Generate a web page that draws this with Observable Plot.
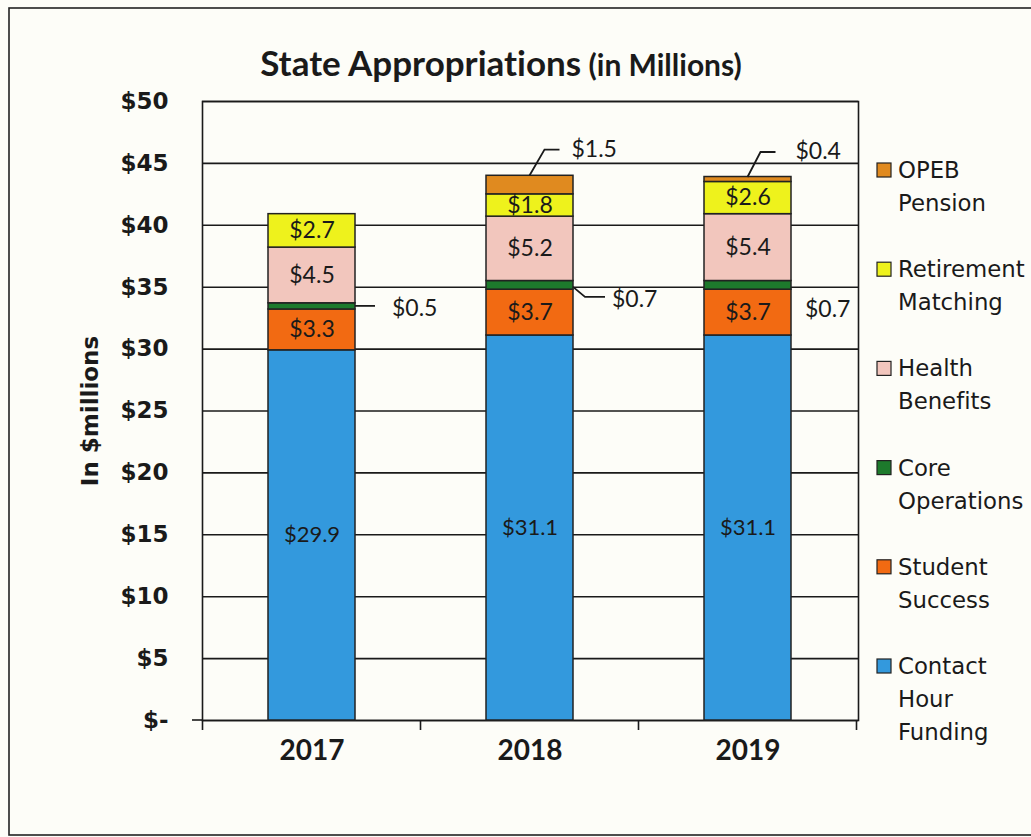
<!DOCTYPE html>
<html><head><meta charset="utf-8">
<script src="https://cdn.jsdelivr.net/npm/d3@7"></script>
<script src="https://cdn.jsdelivr.net/npm/@observablehq/plot@0.6"></script>
<style>
body{margin:0;background:#fdfdf8;}
#chart{position:relative;width:1031px;height:837px;}
text{font-variant-ligatures:none;}
</style>
</head><body><div id="chart"></div>
<script>
// ---- data ----
const years = ["2017", "2018", "2019"];
const series = ["Contact Hour Funding", "Student Success", "Core Operations", "Health Benefits", "Retirement Matching", "OPEB Pension"];
const contactHourFunding = [29.9, 31.1, 31.1];
const studentSuccess = [3.3, 3.7, 3.7];
const coreOperations = [0.5, 0.7, 0.7];
const healthBenefits = [4.5, 5.2, 5.4];
const retirementMatching = [2.7, 1.8, 2.6];
const opebPension = [0, 1.5, 0.4];
const legendLabels = [["OPEB", "Pension"], ["Retirement", "Matching"], ["Health", "Benefits"], ["Core", "Operations"], ["Student", "Success"], ["Contact", "Hour", "Funding"]];
const legendSeries = ["OPEB Pension", "Retirement Matching", "Health Benefits", "Core Operations", "Student Success", "Contact Hour Funding"];
const yTicks = [0, 5, 10, 15, 20, 25, 30, 35, 40, 45, 50];
const colors = ["#3399dd", "#f26a12", "#1d7a2c", "#f2c6bd", "#eef21c", "#e08a1f"];
const titleMain = "State Appropriations";
const titleSub = "(in Millions)";
const yLabel = "In $millions";

// ---- table ----
const valuesBySeries = [contactHourFunding, studentSuccess, coreOperations, healthBenefits, retirementMatching, opebPension];
const rows = [];
years.forEach((yr, j) => {
  let base = 0;
  series.forEach((s, i) => {
    const v = valuesBySeries[i][j];
    rows.push({year: yr, series: s, value: v, y1: base, y2: base + v, mid: base + v / 2});
    base += v;
  });
});
const fmt = v => "$" + v.toFixed(1);
const insideRows = rows.filter(r => r.series !== "Core Operations" && r.series !== "OPEB Pension" && r.value > 0);
const outsideRows = rows.filter(r => (r.series === "Core Operations" || r.series === "OPEB Pension") && r.value > 0);

const dark = "#1a1a1a";
const plot = Plot.plot({
  width: 1031, height: 837,
  marginLeft: 202, marginRight: 173, marginTop: 101, marginBottom: 117,
  style: {background: "transparent", fontFamily: "DejaVu Sans", color: dark},
  x: {domain: years, paddingInner: 0.6, paddingOuter: 0.3, axis: null, label: null},
  y: {domain: [0, 50], axis: null, label: null},
  color: {domain: series, range: colors},
  marks: [
    Plot.ruleY(yTicks, {stroke: dark, strokeWidth: 1.6}),
    Plot.frame({stroke: dark, strokeWidth: 1.6}),
    Plot.barY(rows.filter(r => r.value > 0), {x: "year", y1: "y1", y2: "y2", fill: "series", stroke: "#222", strokeWidth: 1.5}),
    Plot.axisY({ticks: yTicks, tickFormat: d => d === 0 ? "$-" : "$" + d, tickSize: 10, tickPadding: 24,
      fontSize: 23, fontWeight: "bold", stroke: null, fill: dark, label: null}),
    Plot.axisX({tickSize: 0, tickPadding: 20, fontSize: 28, fontWeight: "bold", fontFamily: "Lato", fill: dark, label: null}),
    Plot.text(insideRows, {x: "year", y: "mid", text: d => fmt(d.value), fontFamily: "Lato",
      fontSize: d => d.series === "Contact Hour Funding" ? 22 : 23,
      fontWeight: d => d.series === "Contact Hour Funding" ? "normal" : "bold", fill: dark}),
    Plot.text([yLabel], {frameAnchor: "left", textAnchor: "middle", dx: -112, rotate: -90, fontSize: 23, fontWeight: "bold", fill: dark})
  ]
});
document.getElementById("chart").appendChild(plot);

// ---- extras drawn with the plot's scales ----
const svg = d3.select(plot);
const xs = plot.scale("x"), ys = plot.scale("y");
const bw = xs.bandwidth, step = xs.step;
// category boundary ticks on the x axis
const bounds = years.map(y => xs.apply(y) - (step - bw) / 2).concat([xs.apply(years[years.length - 1]) + bw + (step - bw) / 2]);
svg.append("g").selectAll("line").data(bounds).join("line")
  .attr("x1", d => d).attr("x2", d => d).attr("y1", ys.apply(0)).attr("y2", ys.apply(0) + 10)
  .attr("stroke", dark).attr("stroke-width", 1.6);
svg.append("line").attr("x1", 192).attr("x2", bounds[0]).attr("y1", ys.apply(0)).attr("y2", ys.apply(0)).attr("stroke", dark).attr("stroke-width", 1.6);

// outside labels with leader lines (pixel offsets are style)
const outsideStyle = {
  "Core Operations|2017": {ax: "right", tx: 37, ty: 1, leader: [[0, 0], [20, 0]]},
  "Core Operations|2018": {ax: "right", tx: 39, ty: 13, leader: [[0, 2], [12, 12], [32, 12]]},
  "Core Operations|2019": {ax: "right", tx: 14, ty: 23, leader: null},
  "OPEB Pension|2018": {ax: "center", tx: 42, ty: -37, leader: [[0, -9], [15, -35], [30, -35]]},
  "OPEB Pension|2019": {ax: "center", tx: 48, ty: -29, leader: [[0, -2], [13, -27], [28, -27]]}
};
const og = svg.append("g");
outsideRows.forEach(r => {
  const st = outsideStyle[r.series + "|" + r.year];
  if (!st) return;
  const ax = st.ax === "right" ? xs.apply(r.year) + bw : xs.apply(r.year) + bw / 2;
  const ay = ys.apply(r.mid);
  if (st.leader) {
    og.append("polyline").attr("points", st.leader.map(p => (ax + p[0]) + "," + (ay + p[1])).join(" "))
      .attr("fill", "none").attr("stroke", dark).attr("stroke-width", 1.8);
  }
  og.append("text").attr("x", ax + st.tx).attr("y", ay + st.ty).attr("dominant-baseline", "central")
    .attr("text-anchor", "start").attr("font-family", "Lato").attr("font-size", 23).attr("fill", dark).text(fmt(r.value));
});

// title
const t = svg.append("text").attr("x", 501).attr("y", 76).attr("text-anchor", "middle")
  .attr("font-family", "Lato").attr("font-weight", "bold").attr("fill", dark);
t.append("tspan").attr("font-size", 35).text(titleMain);
t.append("tspan").attr("font-size", 30).text(" " + titleSub);

// legend
const lg = svg.append("g").attr("font-family", "DejaVu Sans").attr("font-size", 22.8).attr("fill", dark).attr("text-anchor", "start");
const colorOf = s => colors[series.indexOf(s)];
legendSeries.forEach((s, i) => {
  const y0 = 170 + i * 99.2;
  lg.append("rect").attr("x", 877).attr("y", y0 - 7).attr("width", 14).attr("height", 14)
    .attr("fill", colorOf(s)).attr("stroke", "#222").attr("stroke-width", 1.2);
  legendLabels[i].forEach((line, k) => {
    lg.append("text").attr("x", 898).attr("y", y0 + k * 33).attr("dominant-baseline", "central").text(line);
  });
});

// outer border
svg.append("rect").attr("x", 9).attr("y", 8).attr("width", 1040).attr("height", 827)
  .attr("fill", "none").attr("stroke", "#222").attr("stroke-width", 1.6);
</script>
</body></html>
